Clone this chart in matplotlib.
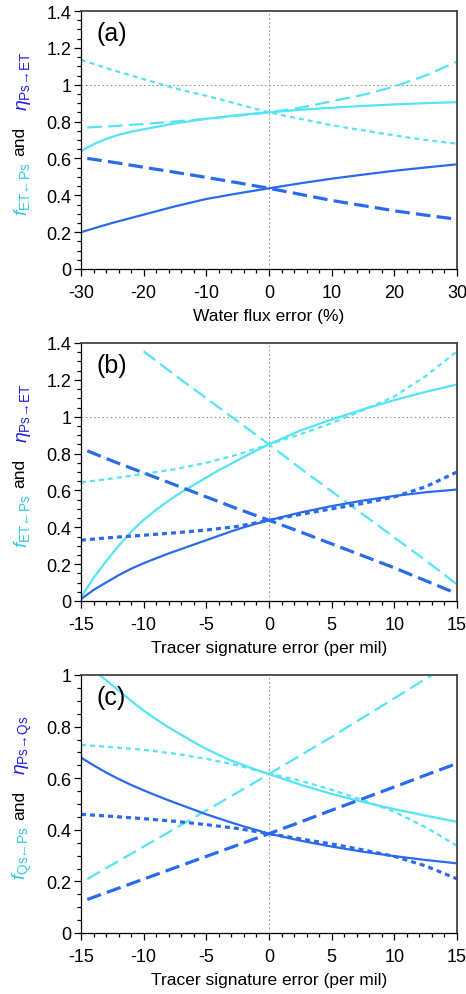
import numpy as np
import matplotlib
matplotlib.use('Agg')
import matplotlib.pyplot as plt
from matplotlib.ticker import MultipleLocator

plt.rcParams['font.family'] = ['Liberation Sans', 'DejaVu Sans']
plt.rcParams['mathtext.fontset'] = 'custom'
plt.rcParams['mathtext.rm'] = 'Liberation Sans'
plt.rcParams['mathtext.it'] = 'Liberation Sans:italic'
plt.rcParams['mathtext.fallback'] = 'stixsans'
plt.rcParams['lines.scale_dashes'] = False
plt.rcParams['axes.unicode_minus'] = False

CYAN = '#55E4F6'
BLUE = '#2A6BEE'
CYAN_LBL = '#33C8EA'
BLUE_LBL = '#2424E6'

# ---- panel (a): water flux error (%)
xa = [-30, -25, -20, -15, -10, -5, 0, 5, 10, 15, 20, 25, 30]
xa_cs = [-30, -28, -26, -24, -22, -20, -15, -10, -5, 0, 5, 10, 15, 20, 25, 30]
xa_dash = [-29, -25, -20, -15, -10, -5, 0, 5, 10, 15, 20, 25, 30]
a_cyan_solid = [0.64, 0.677, 0.706, 0.728, 0.745, 0.758, 0.79, 0.815, 0.835, 0.85, 0.864, 0.875, 0.885, 0.893, 0.90, 0.905]
a_cyan_long = [0.768, 0.775, 0.787, 0.80, 0.815, 0.832, 0.85, 0.875, 0.91, 0.945, 0.99, 1.05, 1.125]
a_cyan_short = [1.135, 1.08, 1.03, 0.98, 0.94, 0.895, 0.85, 0.815, 0.78, 0.752, 0.725, 0.70, 0.68]
a_blue_solid = [0.20, 0.25, 0.295, 0.34, 0.38, 0.41, 0.438, 0.465, 0.49, 0.512, 0.533, 0.551, 0.568]
a_blue_long = [0.60, 0.58, 0.552, 0.525, 0.497, 0.468, 0.438, 0.405, 0.372, 0.344, 0.316, 0.292, 0.27]

# ---- panel (b): tracer signature error, ET
xb = [-15, -12.5, -10, -7.5, -5, -2.5, 0, 2.5, 5, 7.5, 10, 12.5, 15]
xb_s = [-15, -14, -13, -12, -11, -10, -9, -8, -7, -6, -5, -4, -3, -2, -1, 0, 2.5, 5, 7.5, 10, 12.5, 15]
xb_cl = [-10, -7.5, -5, -2.5, 0, 2.5, 5, 7.5, 10, 12.5, 15]
xb_bl = [-14.5, -12.5, -10, -7.5, -5, -2.5, 0, 2.5, 5, 7.5, 10, 12.5, 15]
b_cyan_solid = [0.02, 0.125, 0.215, 0.30, 0.375, 0.44, 0.495, 0.545, 0.59, 0.63, 0.67, 0.71, 0.745,
                0.782, 0.817, 0.85, 0.925, 0.985, 1.04, 1.09, 1.135, 1.175]
b_cyan_short = [0.643, 0.665, 0.69, 0.715, 0.75, 0.795, 0.85, 0.905, 0.965, 1.035, 1.11, 1.22, 1.355]
b_cyan_long = [1.355, 1.225, 1.10, 0.975, 0.85, 0.72, 0.595, 0.47, 0.345, 0.22, 0.09]
b_blue_solid = [0.01, 0.06, 0.10, 0.14, 0.175, 0.205, 0.232, 0.258, 0.282, 0.306, 0.33, 0.354, 0.378,
                0.40, 0.42, 0.438, 0.48, 0.515, 0.545, 0.57, 0.59, 0.605]
b_blue_short = [0.33, 0.345, 0.357, 0.37, 0.385, 0.405, 0.438, 0.47, 0.50, 0.53, 0.565, 0.62, 0.70]
b_blue_long = [0.815, 0.76, 0.695, 0.63, 0.565, 0.50, 0.438, 0.375, 0.31, 0.245, 0.18, 0.11, 0.04]

# ---- panel (c): tracer signature error, Qs
xc = [-15, -12.5, -10, -7.5, -5, -2.5, 0, 2.5, 5, 7.5, 10, 12.5, 15]
xc_s = [-15, -14, -13, -12, -11, -10, -9, -8, -7, -6, -5, -4, -3, -2, -1, 0, 2.5, 5, 7.5, 10, 12.5, 15]
xc_l = [-14.5, -12.5, -10, -7.5, -5, -2.5, 0, 2.5, 5, 7.5, 10, 12.5, 15]
c_cyan_solid = [1.06, 1.02, 0.98, 0.94, 0.90, 0.862, 0.828, 0.797, 0.768, 0.74, 0.713, 0.69, 0.668,
                0.65, 0.632, 0.616, 0.575, 0.539, 0.508, 0.48, 0.455, 0.431]
c_cyan_short = [0.729, 0.72, 0.71, 0.695, 0.675, 0.65, 0.618, 0.59, 0.555, 0.515, 0.47, 0.41, 0.338]
c_cyan_long = [0.209, 0.265, 0.335, 0.405, 0.475, 0.545, 0.616, 0.688, 0.76, 0.835, 0.91, 0.985, 1.06]
c_blue_solid = [0.68, 0.65, 0.622, 0.597, 0.574, 0.553, 0.533, 0.514, 0.496, 0.478, 0.46, 0.444, 0.428,
                0.413, 0.399, 0.385, 0.358, 0.335, 0.315, 0.298, 0.283, 0.27]
c_blue_short = [0.46, 0.452, 0.443, 0.433, 0.42, 0.405, 0.385, 0.365, 0.345, 0.322, 0.297, 0.26, 0.21]
c_blue_long = [0.13, 0.165, 0.209, 0.253, 0.297, 0.341, 0.385, 0.43, 0.476, 0.521, 0.566, 0.612, 0.657]

LONG = (0, (10.5, 4.5))
SHORT = (0, (3.6, 2.9))

fig = plt.figure(figsize=(4.66, 9.95), dpi=100)
L, W, H = 81 / 466, 376 / 466, 258 / 995
ax_a = fig.add_axes([L, 1 - 270 / 995, W, H])
ax_b = fig.add_axes([L, 1 - 602 / 995, W, H])
ax_c = fig.add_axes([L, 1 - 934 / 995, W, H])


def style(ax, xlim, ylim, xmaj, xmin, ymaj, ymin, xlabel, tag, sub_f, sub_eta, yline):
    ax.set_xlim(*xlim)
    ax.set_ylim(*ylim)
    ax.xaxis.set_major_locator(MultipleLocator(xmaj))
    ax.xaxis.set_minor_locator(MultipleLocator(xmin))
    ax.yaxis.set_major_locator(MultipleLocator(ymaj))
    ax.yaxis.set_minor_locator(MultipleLocator(ymin))
    ax.yaxis.set_major_formatter(plt.FuncFormatter(lambda v, p: ('%g' % round(v, 2))))
    ax.tick_params(which='major', direction='out', length=5, width=0.9, labelsize=13)
    ax.tick_params(which='minor', direction='out', length=3, width=0.9)
    ax.tick_params(axis='x', which='major', pad=6)
    ax.tick_params(axis='y', which='major', pad=2)
    for s in ['top', 'right']:
        ax.spines[s].set_color('#444444')
        ax.spines[s].set_linewidth(1.3)
    for s in ['left', 'bottom']:
        ax.spines[s].set_linewidth(0.9)
    ax.axvline(0, color='#999999', lw=0.8, ls=(0, (1.2, 1.8)), zorder=0)
    if yline:
        ax.axhline(1, color='#999999', lw=0.8, ls=(0, (1.2, 1.8)), zorder=0)
    ax.set_xlabel(xlabel, fontsize=12.5, labelpad=5)
    ax.text(0.04, 0.915, tag, transform=ax.transAxes, fontsize=18, va='center', ha='left')
    ax.text(-0.157, 0.315, r'$f_{\mathrm{' + sub_f + '}}$',
            transform=ax.transAxes, rotation=90, color=CYAN_LBL, fontsize=14,
            ha='center', va='center')
    ax.text(-0.162, 0.5, 'and', transform=ax.transAxes, rotation=90, fontsize=12.5,
            ha='center', va='center')
    ax.text(-0.152, 0.73, r'$\eta_{\mathrm{' + sub_eta + '}}$',
            transform=ax.transAxes, rotation=90, color=BLUE_LBL, fontsize=14,
            ha='center', va='center')


# panel a
ax_a.plot(xa_cs, a_cyan_solid, color=CYAN, lw=1.6)
ax_a.plot(xa_dash, a_cyan_long, color=CYAN, lw=1.6, ls=LONG)
ax_a.plot(xa, a_cyan_short, color=CYAN, lw=1.6, ls=SHORT)
ax_a.plot(xa, a_blue_solid, color=BLUE, lw=1.6)
ax_a.plot(xa_dash, a_blue_long, color=BLUE, lw=2.3, ls=LONG)
style(ax_a, (-30, 30), (0, 1.4), 10, 2, 0.2, 0.05, 'Water flux error (%)', '(a)',
      'ET←Ps', 'Ps→ET', True)

# panel b
ax_b.plot(xb_s, b_cyan_solid, color=CYAN, lw=1.6)
ax_b.plot(xb, b_cyan_short, color=CYAN, lw=1.6, ls=SHORT)
ax_b.plot(xb_cl, b_cyan_long, color=CYAN, lw=1.6, ls=LONG)
ax_b.plot(xb_s, b_blue_solid, color=BLUE, lw=1.6)
ax_b.plot(xb, b_blue_short, color=BLUE, lw=2.3, ls=SHORT)
ax_b.plot(xb_bl, b_blue_long, color=BLUE, lw=2.3, ls=LONG)
style(ax_b, (-15, 15), (0, 1.4), 5, 1, 0.2, 0.05, 'Tracer signature error (per mil)', '(b)',
      'ET←Ps', 'Ps→ET', True)

# panel c
ax_c.plot(xc_s, c_cyan_solid, color=CYAN, lw=1.6)
ax_c.plot(xc, c_cyan_short, color=CYAN, lw=1.6, ls=SHORT)
ax_c.plot(xc_l, c_cyan_long, color=CYAN, lw=1.6, ls=LONG)
ax_c.plot(xc_s, c_blue_solid, color=BLUE, lw=1.6)
ax_c.plot(xc, c_blue_short, color=BLUE, lw=2.3, ls=SHORT)
ax_c.plot(xc_l, c_blue_long, color=BLUE, lw=2.3, ls=LONG)
style(ax_c, (-15, 15), (0, 1.0), 5, 1, 0.2, 0.05, 'Tracer signature error (per mil)', '(c)',
      'Qs←Ps', 'Ps→Qs', False)

fig.savefig('out.png', dpi=100)
